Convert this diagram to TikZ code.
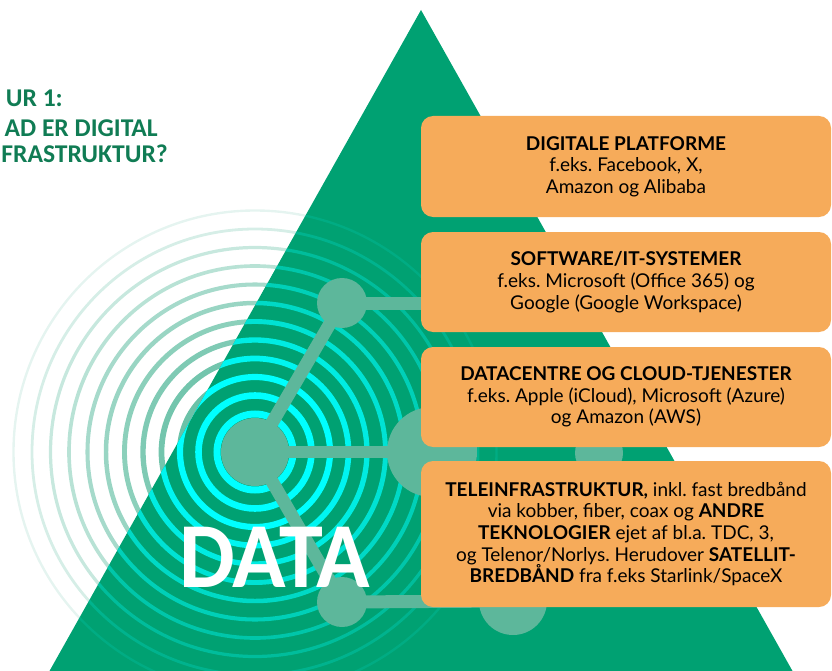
\documentclass[tikz,border=0pt]{standalone}
\usepackage{fontspec}
\setmainfont{Lato}
\newfontfamily\carlito{Carlito}
\frenchspacing
\definecolor{tri}{RGB}{0,161,114}
\definecolor{net}{RGB}{93,183,155}
\definecolor{boxc}{RGB}{246,171,90}
\definecolor{titlec}{RGB}{16,124,84}
\definecolor{ringout}{RGB}{0,150,105}
\definecolor{ringin}{RGB}{0,255,255}
\tikzset{
  netline/.style={draw=net, line width=13pt},
  netnode/.style={circle, fill=net, inner sep=0pt},
  infobox/.style={fill=boxc, rounded corners=12pt, minimum width=410pt, align=center, text=black, font=\fontsize{19}{21.7}\selectfont, inner sep=0pt},
  titletext/.style={text=titlec, font=\carlito\bfseries\fontsize{25.6}{30}\selectfont, inner sep=0pt},
}
\begin{document}
\begin{tikzpicture}[x=1pt,y=-1pt]
\useasboundingbox (0,0) rectangle (832,671);
\clip (0,0) rectangle (832,671);
\coordinate (c) at (255,452);
% rings on white
\foreach \k/\oo in {0/0.6,1/0.6,2/0.58,3/0.55,4/0.5,5/0.45,6/0.4,7/0.35,8/0.28,9/0.22,10/0.16,11/0.1}{
  \draw[ringout, draw opacity=\oo, line width={7pt-0.42pt*\k}] (c) circle[radius={38pt+18.5pt*\k}];
}
% triangle
\fill[tri] (421,10) -- (49.5,671) -- (792.5,671) -- cycle;
% rings inside triangle
\begin{scope}
  \clip (421,10) -- (49.5,671) -- (792.5,671) -- cycle;
  \foreach \k/\oi in {0/1,1/1,2/1,3/0.9,4/0.8,5/0.7,6/0.6,7/0.5,8/0.4,9/0.3,10/0.2,11/0.12}{
    \draw[ringin, draw opacity=\oi, line width={7pt-0.42pt*\k}] (c) circle[radius={38pt+18.5pt*\k}];
  }
\end{scope}
% network
\node[netnode, minimum size=68pt] (C) at (255,452) {};
\node[netnode, minimum size=50pt] (U) at (342,303) {};
\node[netnode, minimum size=90pt] (R) at (432,452) {};
\node[netnode, minimum size=50pt] (L) at (342,602) {};
\node[netnode, minimum size=68pt] (LR) at (513,601) {};
\node[netnode, minimum size=48pt] (M) at (599,453) {};
\coordinate (ue) at (450,303);
\draw[netline] (C.center) -- (U.center);
\draw[netline] (U.center) -- (ue);
\draw[netline, line width=12pt] (C.center) -- (R.center);
\draw[netline] (C.center) -- (L.center);
\draw[netline] (L.center) -- (LR.center);
% DATA
\node[text=white, font=\carlito\bfseries\fontsize{93}{93}\selectfont, anchor=base, inner sep=0pt] (data) at (274.5,587) {\scalebox{0.95}[1]{DATA}};
% boxes
\node[infobox, minimum height=101pt] (b1) at (626,166.5) {\textbf{DIGITALE PLATFORME}\\ f.eks. Facebook, X,\\ Amazon og Alibaba};
\node[infobox, minimum height=100pt] (b2) at (626,282) {\textbf{SOFTWARE/IT-SYSTEMER}\\ f.eks. Microsoft (Office 365) og\\ Google (Google Workspace)};
\node[infobox, minimum height=100pt] (b3) at (626,397) {\textbf{DATACENTRE OG CLOUD-TJENESTER}\\ f.eks. Apple (iCloud), Microsoft (Azure)\\ og Amazon (AWS)};
\node[infobox, minimum height=146pt] (b4) at (626,534) {\textbf{TELEINFRASTRUKTUR,} inkl. fast bredbånd\\ via kobber, fiber, coax og \textbf{ANDRE}\\ \textbf{TEKNOLOGIER} ejet af bl.a. TDC, 3,\\ og Telenor/Norlys. Herudover \textbf{SATELLIT-}\\ \textbf{BREDBÅND} fra f.eks Starlink/SpaceX};
% title
\node[titletext, anchor=base east] (t1) at (63,107) {UR 1:};
\node[titletext, anchor=base east] (t2) at (158,137) {AD ER DIGITAL};
\node[titletext, anchor=base east] (t3) at (168,163) {FRASTRUKTUR?};
\end{tikzpicture}
\end{document}
